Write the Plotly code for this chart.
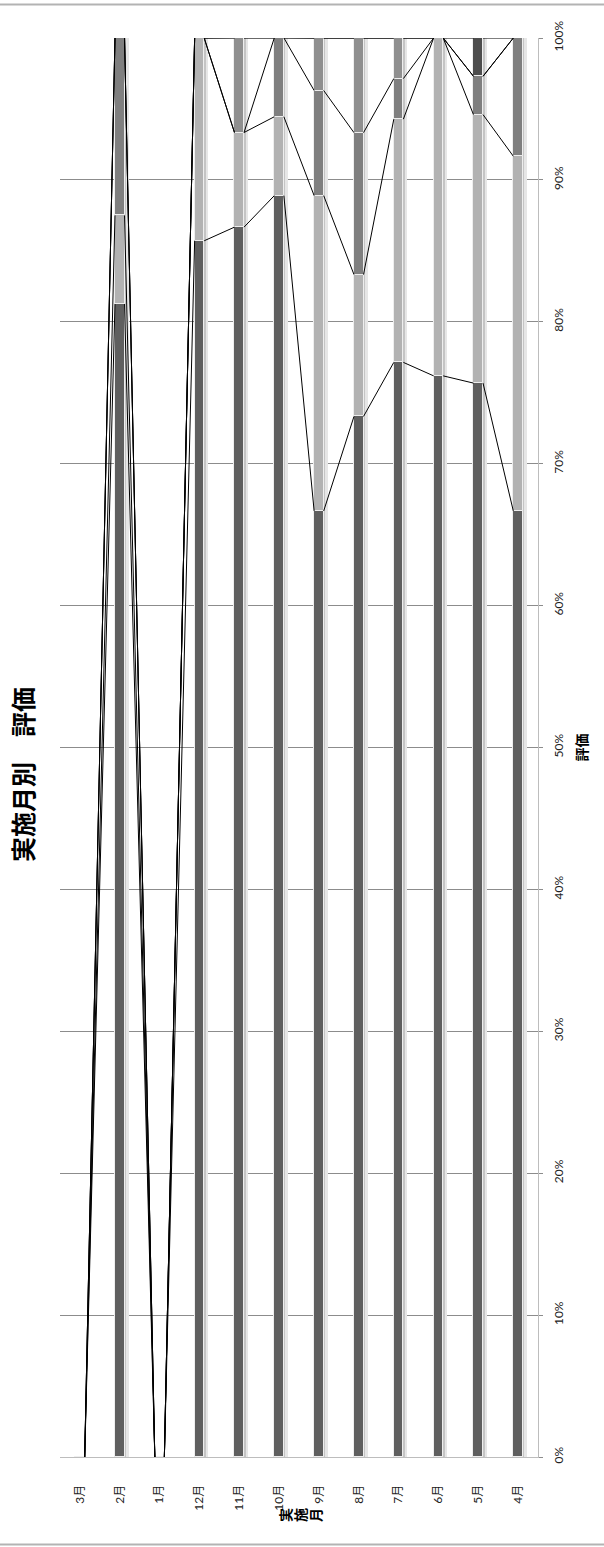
import numpy as np
import plotly.graph_objects as go

# categories in display order (left to right)
months = ["3月", "2月", "1月", "12月", "11月", "10月", "9月", "8月", "7月", "6月", "5月", "4月"]

# percentage share of each rating level per month
seg_a = [0, 81.25, 0, 85.71, 86.67, 88.89, 66.67, 73.33, 77.14, 76.19, 75.68, 66.67]
seg_b = [0, 6.25, 0, 14.29, 6.67, 5.56, 22.22, 10.00, 17.14, 23.81, 18.92, 25.00]
seg_c = [0, 12.50, 0, 0, 0, 5.56, 7.41, 10.00, 2.86, 0, 2.70, 8.33]
seg_d = [0, 0, 0, 0, 6.67, 0, 3.70, 6.67, 2.86, 0, 0, 0]
seg_e = [0, 0, 0, 0, 0, 0, 0, 0, 0, 0, 2.70, 0]

series = [seg_a, seg_b, seg_c, seg_d, seg_e]
series_names = ["評価1", "評価2", "評価3", "評価4", "評価5"]
colors = ["#5f5f5f", "#b2b2b2", "#7f7f7f", "#8f8f8f", "#4d4d4d"]

y_ticks = list(range(0, 101, 10))
y_ticktext = [f"{v}%" for v in y_ticks]

x_title_chars = ["実", "施", "月"]

x = np.arange(len(months))
W = 0.24
vals = np.array(series, dtype=float)
tops = np.cumsum(vals, axis=0)
bases = tops - vals
totals = vals.sum(axis=0)

fig = go.Figure()

# bar shadows
fig.add_trace(go.Bar(x=x, y=totals, base=0, width=0.06, offset=W / 2,
                     marker=dict(color="#c4c4c4", line=dict(width=0)),
                     hoverinfo="skip", showlegend=False))
fig.add_trace(go.Bar(x=x, y=totals, base=0, width=0.05, offset=W / 2 + 0.05,
                     marker=dict(color="#e6e6e6", line=dict(width=0)),
                     hoverinfo="skip", showlegend=False))

for s in range(len(series)):
    fig.add_trace(go.Bar(
        x=x, y=vals[s], base=bases[s], width=W, name=series_names[s],
        marker=dict(color=colors[s], line=dict(color="#eeeeee", width=1)),
        showlegend=False))

# series lines
lx, ly = [], []
for s in range(len(series)):
    for i in range(len(months) - 1):
        lx += [x[i] + W / 2, x[i + 1] - W / 2, None]
        ly += [tops[s][i], tops[s][i + 1], None]
fig.add_trace(go.Scatter(x=lx, y=ly, mode="lines",
                         line=dict(color="#000000", width=1),
                         hoverinfo="skip", showlegend=False))

tick_font = dict(family="Lato, Noto Sans CJK JP", size=12, color="#222222")

annotations = [
    dict(text="<b>実施月別　評価</b>", textangle=-90, xref="paper", yref="paper",
         x=-0.0795, y=0.4813, xanchor="center", yanchor="middle", showarrow=False,
         font=dict(family="Noto Sans CJK JP", size=25, color="#000000")),
    dict(text="<b>評価</b>", textangle=-90, xref="paper", yref="paper",
         x=1.0879, y=0.5, xanchor="center", yanchor="middle", showarrow=False,
         font=dict(family="Noto Sans CJK JP", size=14, color="#000000")),
]
for k, ch in enumerate(x_title_chars):
    annotations.append(dict(
        text=f"<b>{ch}</b>", textangle=-90, xref="paper", yref="paper",
        x=(285 + 15 * k - 60) / 478, y=-0.0409, xanchor="center", yanchor="middle",
        showarrow=False, font=dict(family="Noto Sans CJK JP", size=14, color="#000000")))

fig.update_layout(
    width=604, height=1547,
    margin=dict(l=60, r=66, t=38, b=90),
    paper_bgcolor="white", plot_bgcolor="white",
    barmode="overlay", bargap=0,
    xaxis=dict(range=[-0.5, 11.5], tickvals=list(x), ticktext=months,
               tickangle=-90, tickfont=tick_font, showgrid=False,
               zeroline=False, showline=True, linecolor="#bdbdbd", linewidth=1,
               ticks="", ticklabelstandoff=22, fixedrange=True),
    yaxis=dict(range=[0, 100], side="right", tickvals=y_ticks, ticktext=y_ticktext,
               tickangle=-90, tickfont=tick_font, showgrid=True,
               gridcolor="#8c8c8c", gridwidth=1, zeroline=False,
               showline=True, linecolor="#bdbdbd", linewidth=1,
               ticks="outside", ticklen=4, tickcolor="#8c8c8c",
               ticklabelstandoff=6, fixedrange=True),
    annotations=annotations,
    shapes=[
        dict(type="line", xref="paper", yref="paper", x0=-0.2, x1=1.2,
             y0=(1457 - 4.5) / 1419, y1=(1457 - 4.5) / 1419,
             line=dict(color="#b3b3b3", width=2)),
        dict(type="line", xref="paper", yref="paper", x0=-0.2, x1=1.2,
             y0=(1457 - 1544.5) / 1419, y1=(1457 - 1544.5) / 1419,
             line=dict(color="#b3b3b3", width=2)),
    ],
)

fig.write_html("out.html")
